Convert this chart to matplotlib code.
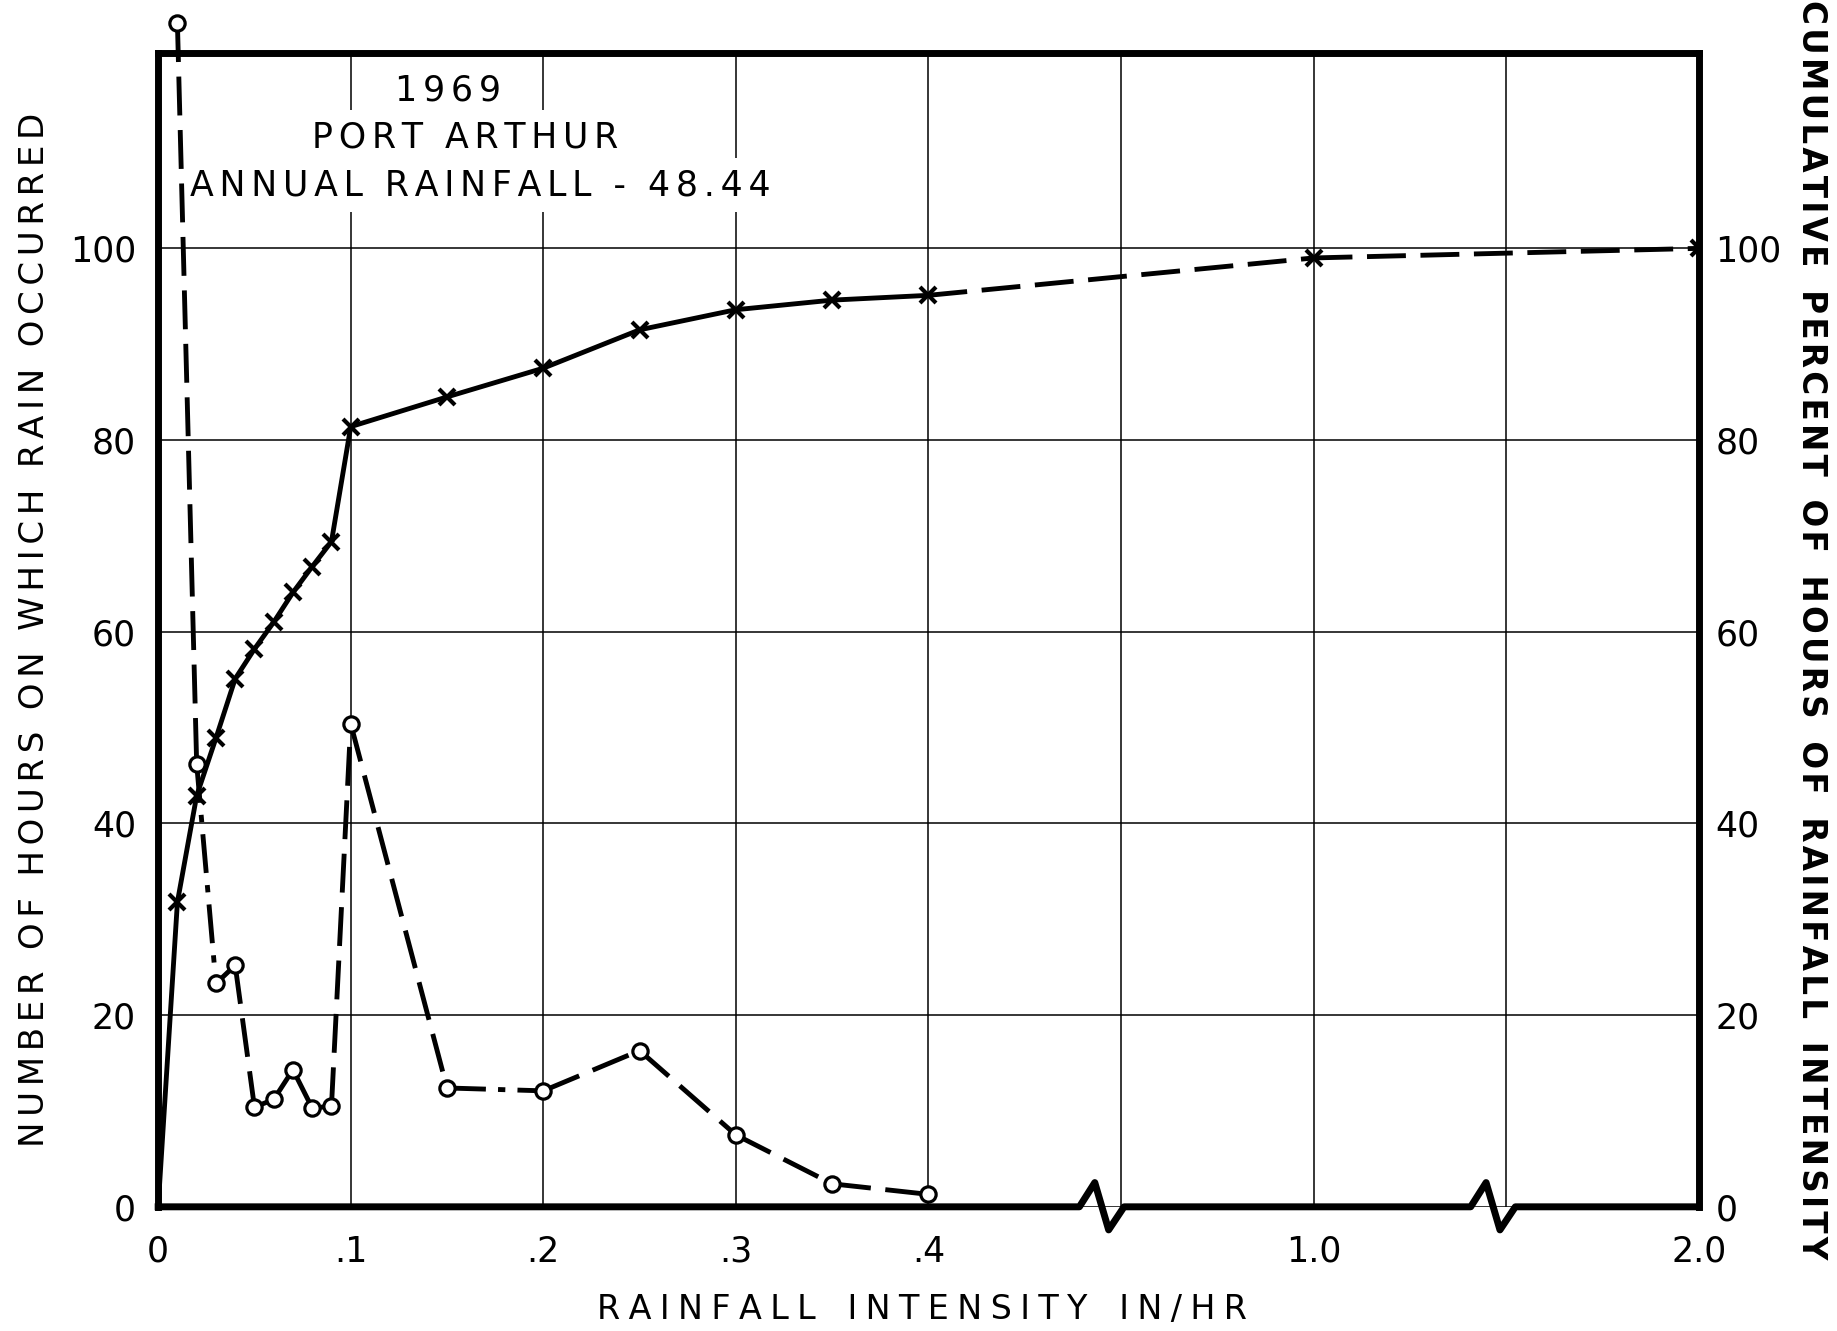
import numpy as np
import matplotlib
matplotlib.use("Agg")
import matplotlib.pyplot as plt
from matplotlib.transforms import blended_transform_factory

plt.rcParams['font.family'] = ['DejaVu Sans']

# rainfall intensity classes (in/hr)
intensity = [0.01, 0.02, 0.03, 0.04, 0.05, 0.06, 0.07, 0.08, 0.09, 0.10,
             0.15, 0.20, 0.25, 0.30, 0.35, 0.40]
# hours on which rain of that intensity occurred (first point runs off the top)
hours = [123.5, 46.2, 23.3, 25.2, 10.4, 11.2, 14.3, 10.3, 10.5, 50.4,
         12.4, 12.1, 16.3, 7.5, 2.4, 1.3]

# cumulative percent of hours
cum_x = [0.0, 0.01, 0.02, 0.03, 0.04, 0.05, 0.06, 0.07, 0.08, 0.09, 0.10,
         0.15, 0.20, 0.25, 0.30, 0.35, 0.40, 1.0, 2.0]
cum_pct = [0.0, 31.8, 42.9, 48.9, 55.1, 58.2, 61.0, 64.1, 66.8, 69.4, 81.4,
           84.5, 87.5, 91.5, 93.6, 94.6, 95.1, 99.0, 100.0]

x_ticks = [0, 0.1, 0.2, 0.3, 0.4, 0.7, 1.0, 1.5, 2.0]
x_labels = ['0', '.1', '.2', '.3', '.4', '', '1.0', '', '2.0']
y_ticks = [0, 20, 40, 60, 80, 100]

title_lines = ['1969', 'PORT ARTHUR', 'ANNUAL RAINFALL - 48.44']

# broken x axis: 0-.4 linear, then compressed up to 1.0 and 2.0
brk_x = [0.0, 0.4, 1.0, 2.0]
brk_p = [0.0, 4.0, 6.0, 8.0]


def fwd(x):
    return np.interp(x, brk_x, brk_p)


def inv(p):
    return np.interp(p, brk_p, brk_x)


def spaced(text, gap, sep=' '):
    # widen the lettering like the hand-lettered originals
    return sep.join(gap.join(w) for w in text.split(' '))


dash = (0, (8, 3))
dashdot = (0, (8, 2.5, 1.5, 2.5))
hour_styles = [dash, dashdot, '-', dash, '-', '-', '-', '-', dash, dash,
               dashdot, dash, dash, dash, dash]
cum_styles = ['-'] * 16 + [dash, dash]

fig = plt.figure(figsize=(18.37, 13.31), dpi=100)
ax = fig.add_axes([0.0861, 0.0933, 0.8386, 0.867])
ax.set_xscale('function', functions=(fwd, inv))
ax.set_xlim(0, 2.0)
ax.set_ylim(0, 120.4)

ax.set_xticks(x_ticks)
ax.set_xticklabels(x_labels)
ax.set_yticks(y_ticks)
ax.tick_params(length=0, labelsize=25, pad=16)
ax.tick_params(axis='x', pad=20)
ax.grid(True, color='black', lw=1.1)
ax.set_axisbelow(True)

for s in ['left', 'top', 'right']:
    ax.spines[s].set_linewidth(5)
    ax.spines[s].set_zorder(2.8)
ax.spines['bottom'].set_visible(False)

# bottom frame with break marks
trans = blended_transform_factory(ax.transAxes, ax.transAxes)
bx, by = [0.0], [0.0]
for c in [0.615, 0.869]:
    bx += [c - 0.017, c - 0.007, c + 0.002, c + 0.012]
    by += [0.0, 0.021, -0.02, 0.0]
bx.append(1.0)
by.append(0.0)
ax.plot(bx, by, color='black', lw=5, transform=trans, clip_on=False,
        solid_joinstyle='round', zorder=5)

# hours per intensity class
for i in range(len(intensity) - 1):
    ax.plot(intensity[i:i + 2], hours[i:i + 2], color='black', lw=3.5,
            linestyle=hour_styles[i], clip_on=False, zorder=3)
ax.plot(intensity, hours, 'o', ms=11, mfc='white', mec='black', mew=2.3,
        clip_on=False, zorder=4)

# cumulative percent curve on the right-hand scale
ax2 = ax.twinx()
ax2.set_ylim(0, 120.4)
ax2.set_yticks(y_ticks)
ax2.tick_params(length=0, labelsize=25, pad=12)
for s in ax2.spines.values():
    s.set_visible(False)
for i in range(len(cum_x) - 1):
    ax2.plot(cum_x[i:i + 2], cum_pct[i:i + 2], color='black', lw=3.5,
             linestyle=cum_styles[i], zorder=3)
ax2.plot(cum_x[1:], cum_pct[1:], 'x', ms=11, mec='black', mew=3, zorder=4)

# station caption, each line blanked out of the grid
for txt, tx, ty in zip(title_lines, [0.188, 0.199, 0.209],
                       [0.9675, 0.927, 0.8853]):
    ax.text(tx, ty, spaced(txt, '\u2006', '  '), transform=ax.transAxes,
            ha='center', va='center', fontsize=25, zorder=2.6,
            bbox=dict(facecolor='white', edgecolor='none', pad=7))

fig.text(0.019, 0.527,
         spaced('NUMBER OF HOURS ON WHICH RAIN OCCURRED', '\u2006', '  '),
         rotation=90, ha='center', va='center', fontsize=24.5)
fig.text(0.986, 0.527,
         spaced('CUMULATIVE PERCENT OF HOURS OF RAINFALL INTENSITY',
                '\u200a', '  '),
         rotation=270, ha='center', va='center', fontsize=23.5,
         fontweight='bold')
fig.text(0.502, 0.016, spaced('RAINFALL INTENSITY IN/HR', '\u2005', '   '),
         ha='center', va='center', fontsize=24)

fig.savefig('out.png', dpi=100)
